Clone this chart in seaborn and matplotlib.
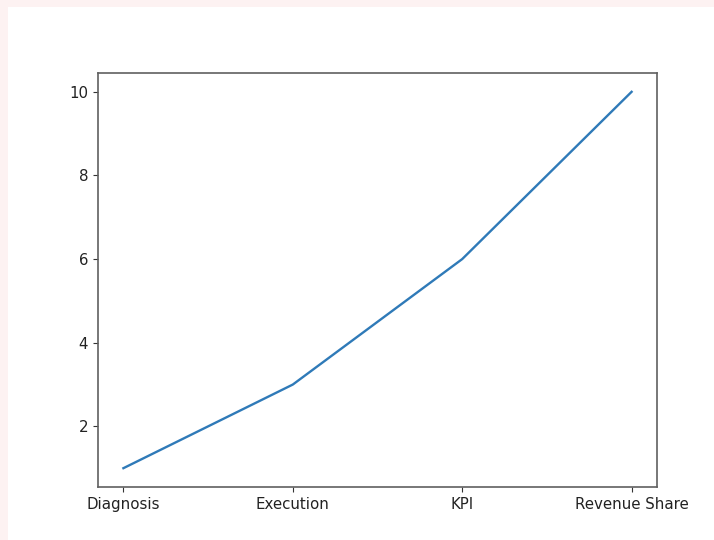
import matplotlib
matplotlib.use("Agg")
import matplotlib.pyplot as plt
import seaborn as sns
import pandas as pd
from matplotlib.patches import Rectangle

stages = ['Diagnosis', 'Execution', 'KPI', 'Revenue Share']
values = [1, 3, 6, 10]

df = pd.DataFrame({'stage': stages, 'value': values})

fig = plt.figure(figsize=(7.14, 5.40), dpi=100)
fig.patch.set_facecolor('white')
# thin pink frame on the top and left edges
fig.patches.append(Rectangle((0, 1 - 7 / 540), 1, 7 / 540, transform=fig.transFigure,
                             facecolor='#fdf2f2', edgecolor='none', zorder=-10))
fig.patches.append(Rectangle((0, 0), 8 / 714, 1, transform=fig.transFigure,
                             facecolor='#fdf2f2', edgecolor='none', zorder=-10))

ax = fig.add_axes([98 / 714, 1 - 487 / 540, (657 - 98) / 714, (487 - 73) / 540])
sns.lineplot(data=df, x='stage', y='value', sort=False, ax=ax, color='#2f7ab8', linewidth=1.7)
ax.set_xlabel('')
ax.set_ylabel('')
ax.set_yticks([2, 4, 6, 8, 10])
ax.tick_params(labelsize=10.8, colors='#333333', labelcolor='#222222')
for s in ax.spines.values():
    s.set_color('#606060')
    s.set_linewidth(1.2)

fig.savefig('out.png', dpi=100, facecolor=fig.get_facecolor())
